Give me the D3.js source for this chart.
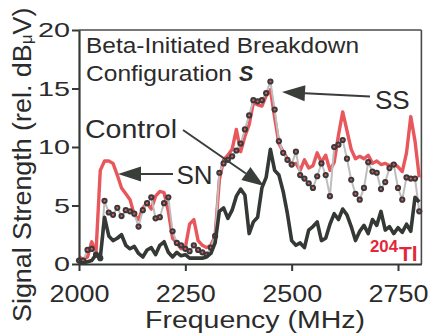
<!DOCTYPE html>
<html><head><meta charset="utf-8">
<script src="https://cdn.jsdelivr.net/npm/d3@7"></script>
<style>html,body{margin:0;padding:0;background:#fff;} svg{display:block;font-family:"Liberation Sans",Arial,sans-serif;}</style>
</head><body><svg id="c" width="437" height="336"></svg>
<script>
// Frequency sampling (MHz)
const freqStart = 2000, freqStep = 10;
// SN (red line), rel. dBuV
const snValues = [0.6,0.4,0.6,1.9,1.0,8.0,8.8,8.8,8.6,7.6,
  6.5,6.0,5.5,4.2,3.8,4.8,5.2,4.7,5.8,6.2,
  6.1,4.5,2.2,1.8,1.3,1.4,3.4,3.8,2.0,1.6,
  1.4,1.6,2.4,7.2,8.9,9.3,9.8,11.5,9.6,10.9,
  11.9,13.8,13.6,13.5,14.4,14.9,12.5,10.3,9.6,9.0,
  8.5,8.6,8.0,8.9,8.2,8.4,9.5,8.7,9.3,8.0,
  8.7,11.0,13.0,11.4,9.8,9.0,9.2,9.0,9.3,8.6,
  8.8,8.5,8.6,8.4,8.6,8.3,7.9,9.5,12.6,10.5,7.4];
// SS (gray line with dots)
const ssValues = [0.3,0.3,1.2,1.3,0.8,0.5,5.4,4.4,4.2,4.8,
  4.1,4.6,4.5,4.3,3.2,4.6,5.2,5.7,3.9,4.0,
  5.2,5.7,2.8,1.8,1.6,1.3,1.1,1.6,1.2,1.0,
  0.8,1.4,2.4,7.8,8.6,8.9,9.2,9.7,10.3,11.5,
  12.7,14.0,13.9,14.0,14.6,15.6,13.2,10.5,9.5,8.9,
  8.5,9.6,7.6,7.3,6.9,6.5,7.5,8.6,7.6,5.8,
  10.0,10.2,10.6,9.0,7.2,6.0,5.5,6.5,8.7,7.9,
  7.8,6.4,7.0,8.2,8.5,6.5,5.5,7.4,7.3,7.3,4.5];
// Control (dark line)
const controlValues = [0.1,0.1,0.2,0.3,0.8,0.5,4.0,2.4,2.0,2.2,
  2.5,1.6,1.3,1.5,0.9,0.6,1.2,1.4,0.8,1.6,
  1.9,1.0,0.6,1.0,0.7,0.8,0.5,0.5,0.5,0.5,
  0.6,0.9,1.8,4.5,4.8,3.9,4.6,5.8,6.4,5.9,
  2.6,3.6,4.0,6.5,7.4,9.8,8.0,7.6,6.2,4.3,
  2.0,1.6,1.8,1.4,2.9,3.2,3.6,2.0,2.2,3.4,
  4.3,3.8,4.7,4.2,3.2,2.0,2.8,3.3,2.6,3.8,
  3.3,4.5,2.9,3.2,2.6,3.1,2.7,3.4,2.8,5.7,5.3];
const xTickValues = [2000, 2250, 2500, 2750];
const yTickValues = [0, 5, 10, 15, 20];
const titleLines = ["Beta-Initiated Breakdown", "Configuration"];
const titleSymbol = "S";
const seriesLabels = ["Control", "SN", "SS"];

const svg = d3.select("#c");
const x = d3.scaleLinear().domain([2000, 2805]).range([79, 421.4]);
const y = d3.scaleLinear().domain([0, 20]).range([264, 30]);
const fx = i => x(freqStart + i * freqStep);

const dark = "#353935";
const textCol = "#2b2b2b";
const red = "#e8575c";

// frame top/right
svg.append("line").attr("x1", x(2000)).attr("x2", x(2805)).attr("y1", y(20)).attr("y2", y(20))
  .attr("stroke", "#555", "stroke-width").attr("stroke", "#4a4a4a").attr("stroke-width", 1.6);
svg.append("line").attr("x1", x(2805)).attr("x2", x(2805)).attr("y1", y(20)).attr("y2", y(0))
  .attr("stroke", "#4a4a4a").attr("stroke-width", 1.6);

// series
const line = d3.line().x((d, i) => fx(i)).y(d => y(d));
svg.append("path").datum(snValues).attr("d", line).attr("fill", "none")
  .attr("stroke", red).attr("stroke-width", 3.4).attr("stroke-linejoin", "round");
svg.append("path").datum(ssValues).attr("d", line).attr("fill", "none")
  .attr("stroke", "#bdbdbd").attr("stroke-width", 2);
svg.append("g").selectAll("circle").data(ssValues).join("circle")
  .attr("cx", (d, i) => fx(i)).attr("cy", d => y(d)).attr("r", 3.1).attr("fill", "#3a3a3a");
svg.append("g").selectAll("circle").data(ssValues).join("circle")
  .attr("cx", (d, i) => fx(i)).attr("cy", d => y(d)).attr("r", 1.1).attr("fill", "#e05a64");
svg.append("path").datum(controlValues).attr("d", line).attr("fill", "none")
  .attr("stroke", dark).attr("stroke-width", 3.6).attr("stroke-linejoin", "round");

// axes
const xAxis = svg.append("g").attr("transform", `translate(0,${y(0)})`)
  .call(d3.axisBottom(x).tickValues(xTickValues).tickSize(7).tickSizeOuter(0).tickFormat(d3.format("d")));
const yAxis = svg.append("g").attr("transform", `translate(${x(2000)},0)`)
  .call(d3.axisLeft(y).tickValues(yTickValues).tickSize(7).tickSizeOuter(0).tickPadding(2).tickFormat(d3.format("d")));
[xAxis, yAxis].forEach(g => {
  g.select(".domain").attr("stroke", dark).attr("stroke-width", 2.2);
  g.selectAll(".tick line").attr("stroke", dark).attr("stroke-width", 2);
  g.selectAll(".tick text").attr("fill", textCol).attr("font-family", "Liberation Sans, Arial, sans-serif");
});
xAxis.selectAll(".tick text").attr("font-size", 23.5).attr("dy", null).attr("y", 37.5)
  .attr("textLength", d => String(d).length * 15).attr("lengthAdjust", "spacingAndGlyphs");
yAxis.selectAll(".tick text").attr("font-size", 21).attr("x", -9)
  .attr("textLength", d => String(d).length * 16).attr("lengthAdjust", "spacingAndGlyphs");

// axis titles
svg.append("text").attr("x", 145).attr("y", 328).attr("font-size", 23).attr("fill", textCol)
  .attr("textLength", 220).attr("lengthAdjust", "spacingAndGlyphs").text("Frequency (MHz)");
const yt = svg.append("text").attr("transform", "translate(31,322) rotate(-90) scale(1.075,1)")
  .attr("font-size", 25).attr("fill", textCol);
yt.append("tspan").text("Signal Strength (rel. dB");
yt.append("tspan").attr("font-size", 16).attr("dy", 1).text("\u03bc");
yt.append("tspan").attr("dy", -1).text("V)");

// title
svg.append("text").attr("x", 86).attr("y", 53).attr("font-size", 21.5).attr("fill", textCol)
  .attr("textLength", 273).attr("lengthAdjust", "spacingAndGlyphs").text(titleLines[0]);
svg.append("text").attr("x", 86).attr("y", 81).attr("font-size", 21.5).attr("fill", textCol)
  .attr("textLength", 146).attr("lengthAdjust", "spacingAndGlyphs").text(titleLines[1]);
svg.append("text").attr("x", 239).attr("y", 81).attr("font-size", 21.5).attr("fill", textCol)
  .attr("font-weight", "bold").attr("font-style", "italic").text(titleSymbol);

// series labels
svg.append("text").attr("x", 85).attr("y", 137.5).attr("font-size", 26).attr("fill", textCol)
  .attr("textLength", 92).attr("lengthAdjust", "spacingAndGlyphs").text(seriesLabels[0]);
svg.append("text").attr("x", 176.5).attr("y", 184).attr("font-size", 26).attr("fill", textCol).text(seriesLabels[1]);
svg.append("text").attr("x", 375).attr("y", 109.3).attr("font-size", 26).attr("fill", textCol).text(seriesLabels[2]);

// isotope label
const iso = svg.append("g").attr("fill", "#e3263a").attr("font-weight", "bold");
iso.append("text").attr("x", 370).attr("y", 251.7).attr("font-size", 16)
  .attr("textLength", 28).attr("lengthAdjust", "spacingAndGlyphs").text("204");
iso.append("text").attr("x", 399).attr("y", 261).attr("font-size", 21).text("Tl");

// arrows
function arrow(x1, y1, x2, y2, len, hw) {
  const dx = x2 - x1, dy = y2 - y1, L = Math.hypot(dx, dy);
  const ux = dx / L, uy = dy / L;
  const bx = x2 - ux * len, by = y2 - uy * len;
  svg.append("line").attr("x1", x1).attr("y1", y1).attr("x2", bx).attr("y2", by)
    .attr("stroke", "#3a3e3a").attr("stroke-width", 2);
  svg.append("path").attr("d", `M${x2},${y2}L${bx - uy * hw},${by + ux * hw}L${bx + uy * hw},${by - ux * hw}Z`)
    .attr("fill", "#3a3e3a");
}
arrow(183, 130, 264, 186, 22, 8);
arrow(173, 174, 118, 174, 23, 7.5);
arrow(370, 96.5, 282, 92, 23, 8);
</script></body></html>
